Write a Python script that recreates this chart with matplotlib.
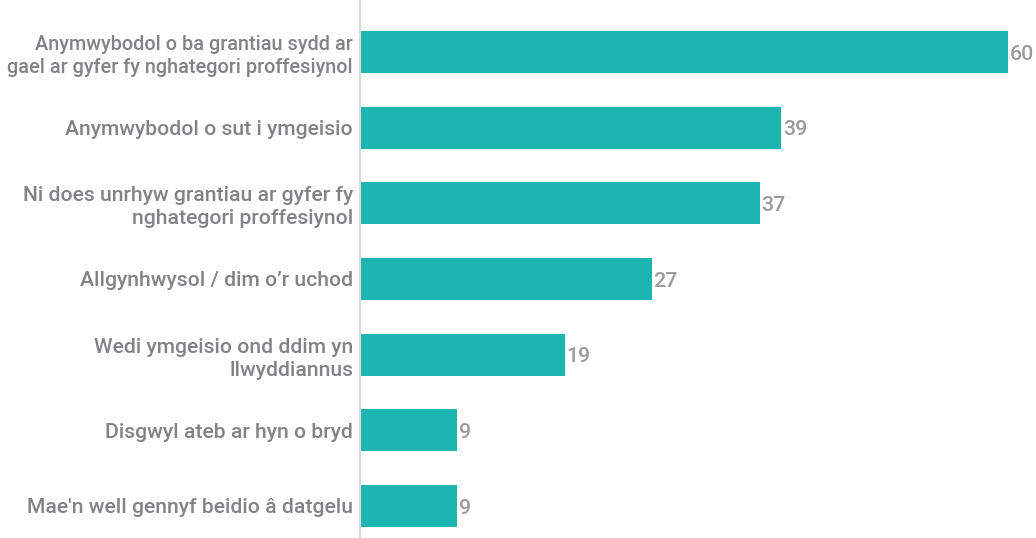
import matplotlib
matplotlib.use("Agg")
import matplotlib.pyplot as plt

categories = [
    "Anymwybodol o ba grantiau sydd ar\ngael ar gyfer fy nghategori proffesiynol",
    "Anymwybodol o sut i ymgeisio",
    "Ni does unrhyw grantiau ar gyfer fy\nnghategori proffesiynol",
    "Allgynhwysol / dim o\u2019r uchod",
    "Wedi ymgeisio ond ddim yn\nllwyddiannus",
    "Disgwyl ateb ar hyn o bryd",
    "Mae'n well gennyf beidio \u00e2 datgelu",
]
values = [60, 39, 37, 27, 19, 9, 9]

plt.rcParams['font.family'] = ['Roboto', 'DejaVu Sans']

fig = plt.figure(figsize=(10.36, 5.38), dpi=100)
ax = fig.add_axes([360 / 1036, 0, 1 - 360 / 1036, 1])

pos = list(range(len(categories)))
ax.barh(pos, values, height=0.555, color="#1db5b1")
for p, v in zip(pos, values):
    ax.text(v + 0.15, p + 0.03, str(v), va="center", ha="left", fontsize=15.3,
            color="#9a9a9a", fontweight="medium")

ax.set_xlim(0, 62.6)
ax.set_ylim(6.423, -0.687)
ax.set_yticks(pos)
ax.set_yticklabels(categories, fontsize=15.2, color="#838387", fontweight="medium",
                   linespacing=1.27)
# the longest label is drawn a little smaller in the original
ax.get_yticklabels()[0].set_fontsize(14.35)
ax.get_yticklabels()[0].set_linespacing(1.3)
ax.tick_params(axis="y", length=0, pad=5)
ax.set_xticks([])
for s in ["top", "right", "bottom"]:
    ax.spines[s].set_visible(False)
ax.spines["left"].set_color("#dcdcdc")
ax.spines["left"].set_linewidth(1.5)

fig.savefig("out.png", dpi=100)
